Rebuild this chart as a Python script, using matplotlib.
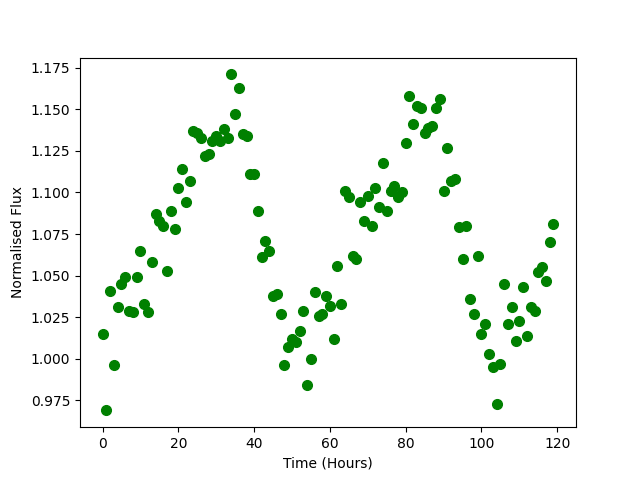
import matplotlib

matplotlib.use("Agg")
import matplotlib.pyplot as plt

# time in hours
hours = list(range(120))

# normalised flux
flux = [
    1.015, 0.969, 1.041, 0.996, 1.031, 1.045, 1.049, 1.029, 1.028, 1.049,
    1.065, 1.033, 1.028, 1.058, 1.087, 1.083, 1.080, 1.053, 1.089, 1.078,
    1.103, 1.114, 1.094, 1.107, 1.137, 1.136, 1.133, 1.122, 1.123, 1.131,
    1.134, 1.131, 1.138, 1.133, 1.171, 1.147, 1.163, 1.135, 1.134, 1.111,
    1.111, 1.089, 1.061, 1.071, 1.065, 1.038, 1.039, 1.027, 0.996, 1.007,
    1.012, 1.010, 1.017, 1.029, 0.984, 1.000, 1.040, 1.026, 1.027, 1.038,
    1.032, 1.012, 1.056, 1.033, 1.101, 1.097, 1.062, 1.060, 1.094, 1.083,
    1.098, 1.080, 1.103, 1.091, 1.118, 1.089, 1.101, 1.104, 1.097, 1.100,
    1.130, 1.158, 1.141, 1.152, 1.151, 1.136, 1.139, 1.140, 1.151, 1.156,
    1.101, 1.127, 1.107, 1.108, 1.079, 1.060, 1.080, 1.036, 1.027, 1.062,
    1.015, 1.021, 1.003, 0.995, 0.973, 0.997, 1.045, 1.021, 1.031, 1.011,
    1.023, 1.043, 1.014, 1.031, 1.029, 1.052, 1.055, 1.047, 1.070, 1.081,
]

fig, ax = plt.subplots(figsize=(6.4, 4.8), dpi=100)
ax.plot(hours, flux, "o", color="green", markersize=7)
ax.set_xlabel("Time (Hours)")
ax.set_ylabel("Normalised Flux")

fig.savefig("out.png", dpi=100)
plt.close(fig)
